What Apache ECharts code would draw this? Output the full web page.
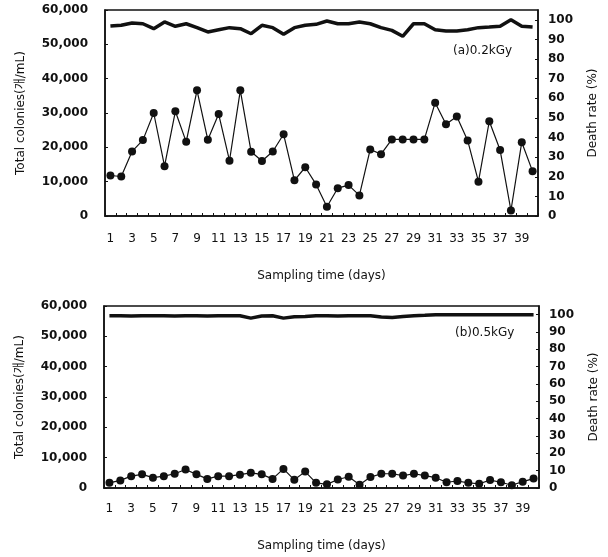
<!DOCTYPE html>
<html>
<head>
<meta charset="utf-8">
<script src="https://cdn.jsdelivr.net/npm/echarts@6/dist/echarts.min.js"></script>
<style>
  html, body { margin: 0; padding: 0; background: #fff; }
  #chart_container { width: 608px; height: 557px; }
</style>
</head>
<body>
<div id="chart_container"></div>
<script>
// sampling days (categories)
var days = ['1', '2', '3', '4', '5', '6', '7', '8', '9', '10',
  '11', '12', '13', '14', '15', '16', '17', '18', '19', '20',
  '21', '22', '23', '24', '25', '26', '27', '28', '29', '30',
  '31', '32', '33', '34', '35', '36', '37', '38', '39', '40'];

// (a) 0.2kGy
var colonies02 = [11800, 11500, 18800, 22100, 30000, 14500, 30500, 21600, 36600, 22200,
  29700, 16100, 36600, 18700, 16000, 18800, 23800, 10400, 14200, 9200,
  2700, 8100, 9000, 6000, 19400, 18000, 22300, 22300, 22300, 22300,
  33000, 26700, 29000, 22000, 10000, 27600, 19200, 1600, 21500, 13000];
var death02 = [96.8, 97.2, 98.4, 98.0, 95.5, 98.9, 96.7, 98.0, 96.0, 93.8,
  94.9, 96.0, 95.5, 92.9, 97.2, 96.0, 92.6, 96.0, 97.2, 97.7,
  99.4, 98.0, 98.0, 98.9, 98.0, 96.0, 94.6, 91.6, 98.0, 98.0,
  94.9, 94.3, 94.3, 94.9, 96.0, 96.3, 96.7, 100, 96.7, 96.3];

// (b) 0.5kGy
var colonies05 = [1700, 2500, 3900, 4500, 3400, 3900, 4700, 6100, 4500, 3000,
  3900, 3900, 4400, 5000, 4500, 3000, 6300, 2700, 5400, 1700,
  1200, 2800, 3700, 1100, 3600, 4700, 4700, 4100, 4700, 4100,
  3400, 1900, 2300, 1700, 1400, 2600, 1900, 900, 2100, 3100];
var death05 = [99.4, 99.4, 99.2, 99.4, 99.4, 99.4, 99.2, 99.4, 99.4, 99.2,
  99.4, 99.4, 99.4, 98.0, 99.2, 99.4, 98.0, 98.8, 99.0, 99.4,
  99.4, 99.2, 99.4, 99.4, 99.4, 98.6, 98.4, 99.0, 99.4, 99.6,
  100, 100, 100, 100, 100, 100, 100, 100, 100, 100];

var panelLabels = ['(a)0.2kGy', '(b)0.5kGy'];
var xName = 'Sampling time (days)';
var leftName = 'Total colonies(개/mL)';
var rightName = 'Death rate (%)';

var chartDom = document.getElementById('chart_container');
var myChart = echarts.init(chartDom, null, { renderer: 'canvas' });

var FONT = 'DejaVu Sans, Noto Sans CJK KR, sans-serif';
var black = '#111';

function xAxisFor(gridIndex, labelMargin, nameGap) {
  return {
    type: 'category',
    gridIndex: gridIndex,
    data: days,
    boundaryGap: true,
    name: xName,
    nameLocation: 'middle',
    nameGap: nameGap,
    nameTextStyle: { fontFamily: FONT, fontSize: 12, color: black },
    axisLine: { lineStyle: { color: black, width: 1.5 } },
    axisTick: { show: true, inside: true, length: 3, interval: 0, lineStyle: { color: black } },
    axisLabel: { interval: 1, margin: labelMargin, fontFamily: FONT, fontSize: 12, color: black },
    splitLine: { show: false }
  };
}

function leftAxisFor(gridIndex) {
  return {
    type: 'value',
    gridIndex: gridIndex,
    min: 0,
    max: 60000,
    interval: 10000,
    position: 'left',
    name: leftName,
    nameLocation: 'middle',
    nameGap: 78,
    nameTextStyle: { fontFamily: FONT, fontSize: 12, color: black },
    axisLine: { show: true, lineStyle: { color: black, width: 1.5 } },
    axisTick: { show: true, inside: true, length: 3, lineStyle: { color: black } },
    axisLabel: {
      margin: 17, fontFamily: FONT, fontSize: 12, fontWeight: 'bold', color: black,
      formatter: function (v) { return v.toLocaleString('en-US'); }
    },
    splitLine: { show: false }
  };
}

function rightAxisFor(gridIndex) {
  return {
    type: 'value',
    gridIndex: gridIndex,
    min: 0,
    max: 105,
    interval: 10,
    position: 'right',
    name: rightName,
    nameLocation: 'middle',
    nameGap: 49,
    nameTextStyle: { fontFamily: FONT, fontSize: 12, color: black },
    axisLine: { show: true, lineStyle: { color: black, width: 1.5 } },
    axisTick: { show: true, inside: true, length: 3, lineStyle: { color: black } },
    axisLabel: { margin: 10, showMaxLabel: false, fontFamily: FONT, fontSize: 12, fontWeight: 'bold', color: black },
    splitLine: { show: false }
  };
}

function colonySeries(idx, data) {
  return {
    type: 'line',
    xAxisIndex: idx,
    yAxisIndex: idx * 2,
    data: data,
    symbol: 'circle',
    symbolSize: 8,
    showAllSymbol: true,
    lineStyle: { color: black, width: 1.2 },
    itemStyle: { color: black },
    animation: false
  };
}

function deathSeries(idx, data) {
  return {
    type: 'line',
    xAxisIndex: idx,
    yAxisIndex: idx * 2 + 1,
    data: data,
    symbol: 'none',
    lineStyle: { color: black, width: 3.5 },
    animation: false
  };
}

var option = {
  backgroundColor: '#fff',
  title: [
    { text: panelLabels[0], left: 448, top: 40, textStyle: { fontFamily: FONT, fontSize: 12, fontWeight: 'normal', color: black } },
    { text: panelLabels[1], left: 450, top: 322, textStyle: { fontFamily: FONT, fontSize: 12, fontWeight: 'normal', color: black } }
  ],
  grid: [
    { left: 105, right: 70, top: 10, height: 206, show: true, borderColor: black, borderWidth: 1.5, backgroundColor: 'transparent' },
    { left: 104, right: 69, top: 306, height: 182, show: true, borderColor: black, borderWidth: 1.5, backgroundColor: 'transparent' }
  ],
  xAxis: [xAxisFor(0, 17, 54), xAxisFor(1, 15, 52)],
  yAxis: [leftAxisFor(0), rightAxisFor(0), leftAxisFor(1), rightAxisFor(1)],
  series: [
    colonySeries(0, colonies02),
    deathSeries(0, death02),
    colonySeries(1, colonies05),
    deathSeries(1, death05)
  ]
};

option && myChart.setOption(option);
</script>
</body>
</html>
